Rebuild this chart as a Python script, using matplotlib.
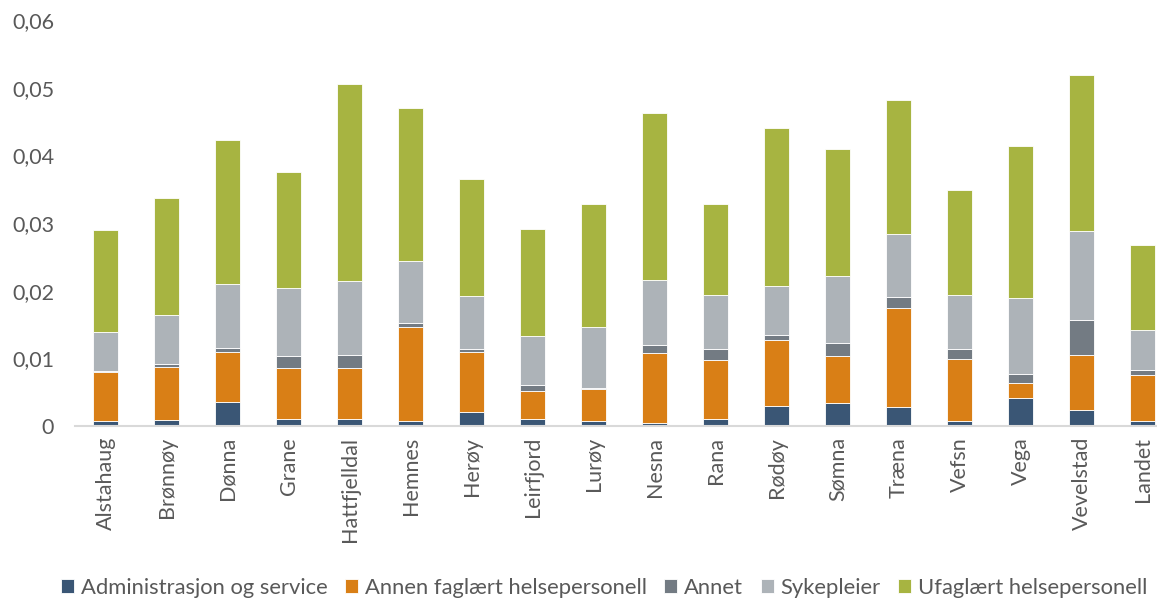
import matplotlib
matplotlib.use("Agg")
from matplotlib import pyplot as plt
import numpy as np

plt.rcParams['font.family'] = ['Lato', 'DejaVu Sans']

kommuner = ['Alstahaug', 'Brønnøy', 'Dønna', 'Grane', 'Hattfjelldal', 'Hemnes',
            'Herøy', 'Leirfjord', 'Lurøy', 'Nesna', 'Rana', 'Rødøy', 'Sømna',
            'Træna', 'Vefsn', 'Vega', 'Vevelstad', 'Landet']

# verdier lest av figuren
admin = [0.0007, 0.0009, 0.0036, 0.0010, 0.0011, 0.0007, 0.0020, 0.0011, 0.0008,
         0.0005, 0.0010, 0.0029, 0.0034, 0.0028, 0.0007, 0.0042, 0.0023, 0.0008]
annen = [0.0073, 0.0078, 0.0074, 0.0075, 0.0074, 0.0140, 0.0090, 0.0040, 0.0046,
         0.0103, 0.0087, 0.0098, 0.0070, 0.0147, 0.0092, 0.0022, 0.0082, 0.0068]
annet = [0.0002, 0.0004, 0.0005, 0.0018, 0.0020, 0.0005, 0.0004, 0.0010, 0.0002,
         0.0012, 0.0017, 0.0007, 0.0018, 0.0015, 0.0015, 0.0013, 0.0051, 0.0007]
syk = [0.0057, 0.0073, 0.0095, 0.0101, 0.0109, 0.0092, 0.0078, 0.0072, 0.0090,
       0.0096, 0.0080, 0.0073, 0.0100, 0.0094, 0.0080, 0.0112, 0.0132, 0.0059]
ufag = [0.0151, 0.0173, 0.0212, 0.0172, 0.0292, 0.0226, 0.0173, 0.0158, 0.0182,
        0.0246, 0.0134, 0.0234, 0.0188, 0.0198, 0.0155, 0.0225, 0.0230, 0.0125]

serier = [('Administrasjon og service', admin, '#3a5675'),
          ('Annen faglært helsepersonell', annen, '#d97f16'),
          ('Annet', annet, '#737b83'),
          ('Sykepleier', syk, '#adb3b8'),
          ('Ufaglært helsepersonell', ufag, '#a7b441')]

tekst = '#595959'

fig = plt.figure(figsize=(11.57, 5.98), dpi=100)
ax = fig.add_axes([75/1157, 1 - 426/598, (1157 - 75)/1157, (426 - 20)/598])

x = np.arange(len(kommuner))
bunn = np.zeros(len(kommuner))
for navn, verdier, farge in serier:
    ax.bar(x, verdier, 0.41, bottom=bunn, color=farge, label=navn,
           edgecolor='white', linewidth=0.6)
    bunn += np.array(verdier)

ax.set_xlim(-0.5, 17.23)
ax.set_ylim(0, 0.06)
ax.set_yticks([0, 0.01, 0.02, 0.03, 0.04, 0.05, 0.06])
ax.set_yticklabels(['0', '0,01', '0,02', '0,03', '0,04', '0,05', '0,06'])
ax.set_xticks(x)
ax.set_xticklabels(kommuner, rotation=90)
ax.tick_params(axis='both', length=0, colors=tekst, labelsize=15.5)
ax.tick_params(axis='y', pad=15)
ax.tick_params(axis='x', pad=8)
for side in ['top', 'right', 'left']:
    ax.spines[side].set_visible(False)
ax.spines['bottom'].set_color('#d9d9d9')
ax.spines['bottom'].set_linewidth(1.5)

fig.legend(loc='center', bbox_to_anchor=(0.522, 1 - 588/598), ncol=5, frameon=False,
           fontsize=15.8, handlelength=0.6, handleheight=0.6, handletextpad=0.3,
           columnspacing=0.8, labelcolor=tekst)

fig.savefig('out.png', dpi=100)
